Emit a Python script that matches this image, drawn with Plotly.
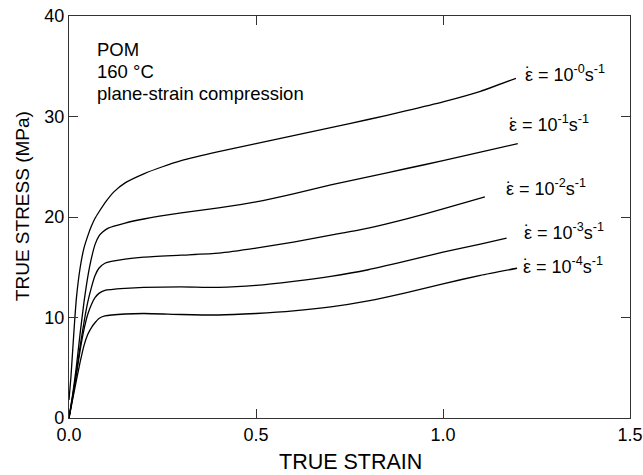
import plotly.graph_objects as go

# 10^0 s^-1
strain_r0 = [0, 0.005, 0.01, 0.015, 0.02, 0.03, 0.04, 0.05, 0.06, 0.07, 0.08, 0.1, 0.12, 0.15,
             0.2, 0.25, 0.3, 0.4, 0.5, 0.6, 0.7, 0.8, 0.9, 1.0, 1.1, 1.195]
stress_r0 = [1.8, 4.0, 6.8, 9.6, 12.0, 15.0, 16.9, 18.1, 19.1, 19.9, 20.5, 21.6, 22.5, 23.4,
             24.3, 25.0, 25.6, 26.5, 27.3, 28.1, 28.9, 29.7, 30.55, 31.45, 32.5, 33.8]
# 10^-1 s^-1
strain_r1 = [0, 0.01, 0.02, 0.03, 0.04, 0.05, 0.06, 0.07, 0.08, 0.09, 0.105, 0.15, 0.2, 0.3,
             0.4, 0.5, 0.6, 0.7, 0.8, 0.9, 1.0, 1.1, 1.2]
stress_r1 = [0, 2.4, 5.2, 8.5, 11.5, 14.0, 15.9, 17.3, 18.1, 18.5, 18.9, 19.4, 19.8, 20.4,
             20.9, 21.5, 22.3, 23.2, 24.0, 24.8, 25.6, 26.45, 27.3]
# 10^-2 s^-1
strain_r2 = [0, 0.01, 0.02, 0.03, 0.04, 0.05, 0.06, 0.07, 0.08, 0.096, 0.15, 0.2, 0.3, 0.4,
             0.5, 0.6, 0.7, 0.8, 0.9, 1.0, 1.112]
stress_r2 = [0, 2.2, 4.6, 7.2, 9.5, 11.5, 13.0, 14.2, 14.9, 15.4, 15.8, 16.0, 16.2, 16.4,
             16.9, 17.5, 18.2, 18.9, 19.8, 20.8, 22.0]
# 10^-3 s^-1
strain_r3 = [0, 0.01, 0.02, 0.03, 0.04, 0.05, 0.06, 0.07, 0.08, 0.096, 0.15, 0.2, 0.3, 0.4,
             0.5, 0.6, 0.7, 0.8, 0.9, 1.0, 1.1, 1.17]
stress_r3 = [0, 2.1, 4.4, 6.8, 8.8, 10.3, 11.3, 12.0, 12.4, 12.7, 12.9, 13.0, 13.05, 13.0,
             13.2, 13.6, 14.1, 14.75, 15.6, 16.5, 17.3, 17.9]
# 10^-4 s^-1
strain_r4 = [0, 0.01, 0.02, 0.03, 0.04, 0.05, 0.06, 0.07, 0.08, 0.096, 0.15, 0.2, 0.3, 0.4,
             0.5, 0.6, 0.7, 0.8, 0.9, 1.0, 1.1, 1.198]
stress_r4 = [0, 1.9, 3.8, 5.6, 7.2, 8.3, 9.0, 9.5, 9.9, 10.15, 10.35, 10.4, 10.3, 10.25,
             10.4, 10.65, 11.05, 11.65, 12.45, 13.35, 14.2, 14.9]

rate_exponents = ["-0", "-1", "-2", "-3", "-4"]
label_x = [1.222, 1.179, 1.171, 1.219, 1.217]
label_y = [34.3, 29.3, 22.9, 18.6, 15.2]

info_lines = ["POM", "160 °C", "plane-strain compression"]
info_y = [36.7, 34.5, 32.3]

x_ticks = [0.0, 0.5, 1.0, 1.5]
x_ticktext = ["0.0", "0.5", "1.0", "1.5"]
y_ticks = [0, 10, 20, 30, 40]

FONT = "Liberation Sans, Arial, sans-serif"

fig = go.Figure()
curves = [(strain_r0, stress_r0), (strain_r1, stress_r1), (strain_r2, stress_r2),
          (strain_r3, stress_r3), (strain_r4, stress_r4)]
for xs, ys in curves:
    fig.add_trace(go.Scatter(x=xs, y=ys, mode="lines",
                             line=dict(color="black", width=1.3, shape="spline", smoothing=0.5),
                             showlegend=False, hoverinfo="skip"))

for exp, lx, ly in zip(rate_exponents, label_x, label_y):
    fig.add_annotation(x=lx, y=ly, xref="x", yref="y", xanchor="left", yanchor="middle",
                       text="ε = 10<sup>" + exp + "</sup>s<sup>-1</sup>", showarrow=False,
                       xshift=-3, font=dict(family=FONT, size=18, color="black"))
    # dot over epsilon
    fig.add_annotation(x=lx, y=ly, xref="x", yref="y", xanchor="center", yanchor="middle",
                       text="˙", showarrow=False, xshift=2, yshift=-1,
                       font=dict(family=FONT, size=18, color="black"))

for txt, ty in zip(info_lines, info_y):
    fig.add_annotation(x=0.07, y=ty, xref="x", yref="y", xanchor="left", yanchor="middle",
                       text=txt, showarrow=False,
                       font=dict(family=FONT, size=18.5, color="black"))

# axis titles
fig.add_annotation(x=0.5009, y=-0.109, xref="paper", yref="paper", xanchor="center",
                   yanchor="middle", text="TRUE STRAIN", showarrow=False,
                   font=dict(family=FONT, size=21.5, color="black"))
fig.add_annotation(x=-0.0838, y=0.527, xref="paper", yref="paper", xanchor="center",
                   yanchor="middle", text="TRUE STRESS (MPa)", showarrow=False, textangle=-90,
                   font=dict(family=FONT, size=19, color="black"))

axis_common = dict(showline=True, linecolor="#333", linewidth=1.3, mirror="ticks",
                   ticks="inside", ticklen=9, tickcolor="#333", tickwidth=1.3,
                   showgrid=False, zeroline=False, automargin=False,
                   tickfont=dict(family=FONT, size=18, color="black"))

fig.update_xaxes(range=[0, 1.5], tickvals=x_ticks, ticktext=x_ticktext, **axis_common)
fig.update_yaxes(range=[0, 40], tickvals=y_ticks, **axis_common)

fig.update_layout(width=643, height=475, margin=dict(l=69, r=13, t=16, b=57),
                  plot_bgcolor="white", paper_bgcolor="white")

fig.write_html("out.html", config={"displayModeBar": False})

# remove the browser's default page margin so the figure sits at the window's corner
with open("out.html", "r", encoding="utf-8") as f:
    html = f.read()
html = html.replace("<head>", "<head><style>html,body{margin:0;padding:0;overflow:hidden;}</style>", 1)
with open("out.html", "w", encoding="utf-8") as f:
    f.write(html)
